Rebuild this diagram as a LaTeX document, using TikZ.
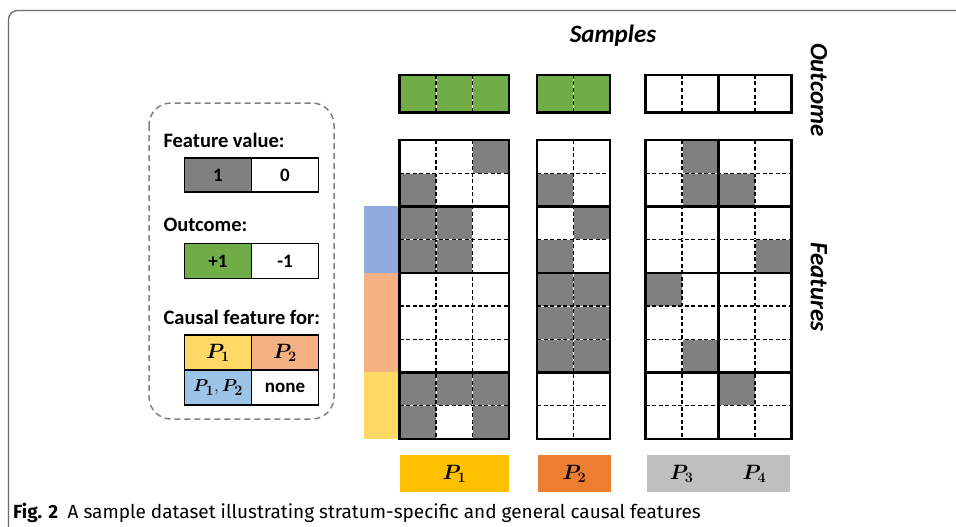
\documentclass[tikz,border=0pt]{standalone}
\usepackage{amsmath}
\usepackage{bm}
\usepackage{fontspec}
\setmainfont{Carlito}
\newfontfamily\capfont{Fira Sans}
\usetikzlibrary{positioning}
\definecolor{cellgray}{HTML}{808080}
\definecolor{outgreen}{HTML}{70AD47}
\definecolor{grpblue}{HTML}{8FAADC}
\definecolor{lgdblue}{HTML}{9DC3E6}
\definecolor{grporange}{HTML}{F4B183}
\definecolor{grpyellow}{HTML}{FFD966}
\definecolor{pgold}{HTML}{FFC000}
\definecolor{porange}{HTML}{ED7D31}
\definecolor{pgray}{HTML}{BFBFBF}
\newcommand{\cw}{36.5}
\newcommand{\rh}{33.2}
% one block of samples: #1 left x, #2 columns, #3 outcome fill, #4 gray cells (col/row)
\newcommand{\stratgrid}[4]{%
  \fill[#3] (#1,75) rectangle ++(#2*\cw,37.3);
  \foreach \c/\r in {#4}
    \fill[cellgray] ({#1+(\c-1)*\cw},{140+(\r-1)*\rh}) rectangle ++(\cw,\rh);
  \foreach \c in {2,...,#2} {
    \draw[dashline] ({#1+(\c-1)*\cw},75) -- ++(0,37.3);
    \draw[dashline] ({#1+(\c-1)*\cw},140) -- ++(0,9*\rh);
  }
  \foreach \r in {2,...,9}
    \draw[dashline] (#1,{140+(\r-1)*\rh}) -- ++(#2*\cw,0);
  \draw[boldline] (#1,75) rectangle ++(#2*\cw,37.3);
  \draw[boldline] (#1,140) rectangle ++(#2*\cw,9*\rh);
  \foreach \r in {2,4,7}
    \draw[boldline] (#1,{140+\r*\rh}) -- ++(#2*\cw,0);
}

\begin{document}
\begin{tikzpicture}[
  x=1pt,y=-1pt,
  dashline/.style={black,line width=1.4pt,dash pattern=on 4pt off 2.5pt,preaction={draw=white,solid}},
  boldline/.style={black,line width=2.4pt},
  lcell/.style={draw,line width=1.5pt,minimum width=67pt,minimum height=34pt,outer sep=0pt,inner sep=0pt,font=\fontsize{19}{21}\selectfont\bfseries},
  ltitle/.style={anchor=west,font=\fontsize{20.5}{23}\selectfont\bfseries},
  axlab/.style={font=\fontsize{25}{28}\selectfont\bfseries\itshape},
  plab/.style={minimum height=36.5pt,inner sep=0pt,font=\fontsize{20}{22}\selectfont}
]
\useasboundingbox (0,0) rectangle (956,527);
\fill[white] (0,0) rectangle (956,527);
% outer frame
\draw[gray!85!black,line width=1.3pt,rounded corners=9pt] (8.5,540) -- (8.5,10.5) -- (970,10.5);

% legend
\draw[gray,line width=1.5pt,dash pattern=on 6pt off 4pt,rounded corners=22pt] (149,103) rectangle (334,419);
\node[ltitle] (tfv) at (160,140) {Feature value:};
\node[lcell,fill=cellgray] (fv1) at (218,175) {1};
\node[lcell,right=0pt of fv1] (fv0) {0};
\node[ltitle] (tout) at (160,225) {Outcome:};
\node[lcell,fill=outgreen,minimum height=35pt] (oc1) at (218,261) {+1};
\node[lcell,right=0pt of oc1,minimum height=35pt] (oc0) {-1};
\node[ltitle] (tcf) at (160,317) {Causal feature for:};
\node[lcell,fill=grpyellow,minimum height=35pt,font=\fontsize{20}{22}\selectfont] (cf1) at (218,352.5) {$\bm{P_1}$};
\node[lcell,fill=grporange,right=0pt of cf1,minimum height=35pt,font=\fontsize{20}{22}\selectfont] (cf2) {$\bm{P_2}$};
\node[lcell,fill=lgdblue,below=0pt of cf1,minimum height=35pt,font=\fontsize{19}{21}\selectfont] (cf12) {$\bm{P_1},\bm{P_2}$};
\node[lcell,below=0pt of cf2,minimum height=35pt] (cfn) {none};

% feature groups
\fill[grpblue] (364,{140+2*\rh}) rectangle (399.5,{140+4*\rh});
\fill[grporange] (364,{140+4*\rh}) rectangle (399.5,{140+7*\rh});
\fill[grpyellow] (364,{140+7*\rh}) rectangle (399.5,{140+9*\rh});

% samples
\stratgrid{399.5}{3}{outgreen}{3/1,1/2,1/3,2/3,1/4,2/4,1/8,2/8,3/8,1/9,3/9}
\stratgrid{537}{2}{outgreen}{1/2,2/3,1/4,1/5,2/5,1/6,2/6,1/7,2/7}
\stratgrid{645.5}{4}{white}{2/1,2/2,3/2,4/4,1/5,2/7,3/8}
\draw[boldline] ({645.5+2*\cw},75) -- ++(0,37.3);
\draw[boldline] ({645.5+2*\cw},140) -- ++(0,9*\rh);

\node[axlab] (samples) at (613,36) {Samples};
\node[axlab,rotate=-90] (outcome) at (819,90) {Outcome};
\node[axlab,rotate=-90] (features) at (819,287) {Features};

% strata
\node[plab,fill=pgold,minimum width=108.5pt] (s1) at (454.3,473.5) {$\bm{P_1}$};
\node[plab,fill=porange,minimum width=72.5pt] (s2) at (574.5,473.5) {$\bm{P_2}$};
\node[plab,fill=pgray,minimum width=143.5pt] (s34) at (718.4,473.5) {};
\node[font=\fontsize{20}{22}\selectfont] (s3) at (681.7,473.5) {$\bm{P_3}$};
\node[font=\fontsize{20}{22}\selectfont] (s4) at (754.3,473.5) {$\bm{P_4}$};

\node[anchor=base west,inner sep=0pt,font=\capfont\fontsize{19}{22}\selectfont] (cap) at (13,518)
  {\textbf{Fig. 2}\enspace A sample dataset illustrating stratum-specific and general causal features};
\end{tikzpicture}
\end{document}
